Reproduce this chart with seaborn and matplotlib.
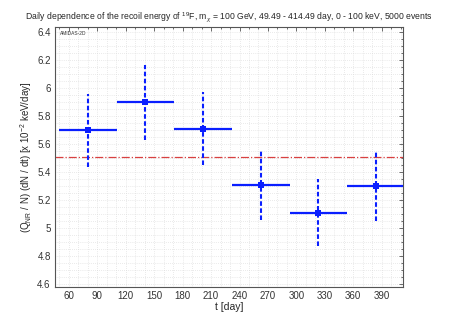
import numpy as np
import pandas as pd
import matplotlib
matplotlib.use("Agg")
import matplotlib.pyplot as plt
import seaborn as sns
from matplotlib.ticker import MultipleLocator

# data
bin_lo = [49.49, 110.32, 171.16, 231.99, 292.82, 353.66]
bin_hi = [110.32, 171.16, 231.99, 292.82, 353.66, 414.49]
t_center = [79.9, 140.7, 201.6, 262.4, 323.2, 384.1]
rate = [5.70, 5.90, 5.71, 5.305, 5.11, 5.30]
err = [0.26, 0.27, 0.26, 0.245, 0.24, 0.25]
mean_rate = 5.505
x_ticks = [60, 90, 120, 150, 180, 210, 240, 270, 300, 330, 360, 390]
y_ticks = [4.6, 4.8, 5.0, 5.2, 5.4, 5.6, 5.8, 6.0, 6.2, 6.4]
y_ticklabels = ["4.6", "4.8", "5", "5.2", "5.4", "5.6", "5.8", "6", "6.2", "6.4"]

sns.set_theme(style="white")
plt.rcParams['font.family'] = ['Liberation Sans', 'DejaVu Sans']
plt.rcParams['mathtext.fontset'] = 'custom'
plt.rcParams['mathtext.rm'] = 'Liberation Sans'
plt.rcParams['mathtext.it'] = 'Liberation Sans:italic'

df = pd.DataFrame({"t": t_center, "rate": rate, "err": err, "lo": bin_lo, "hi": bin_hi})

fig = plt.figure(figsize=(4.5, 3.15), dpi=100)
ax = fig.add_axes([0.122, 0.09, 0.773, 0.823])

ax.set_xlim(45.2, 412.2)
ax.set_ylim(4.58, 6.436)
ax.xaxis.set_minor_locator(MultipleLocator(10))
ax.yaxis.set_minor_locator(MultipleLocator(0.05))
ax.grid(True, which='both', color='#d6d6d6', linestyle=(0, (1, 2)), linewidth=0.5)
ax.set_axisbelow(True)

ax.axhline(mean_rate, color='#d84040', linestyle='-.', linewidth=0.9, zorder=2)

blue = '#0a1fff'
# horizontal bars (bin widths)
ax.hlines(df["rate"], df["lo"], df["hi"], color=blue, linewidth=1.6, zorder=3)
# vertical dashed error bars
ax.vlines(df["t"], df["rate"] - df["err"], df["rate"] + df["err"], color=blue,
          linewidth=1.5, linestyles=(0, (2.2, 1.2)), zorder=3)
sns.scatterplot(data=df, x="t", y="rate", ax=ax, marker='s', s=20, color=blue,
                edgecolor=blue, linewidth=0, zorder=4, legend=False)

ax.set_xticks(x_ticks)
ax.set_xticklabels([str(v) for v in x_ticks], fontsize=7, color='#333333')
ax.set_yticks(y_ticks)
ax.set_yticklabels(y_ticklabels, fontsize=7, color='#333333')
ax.tick_params(which='both', direction='in', top=True, right=True, length=3, width=0.6,
               color='#555555', pad=3)
ax.tick_params(which='minor', length=1.5)

for s in ax.spines.values():
    s.set_color('#555555')
    s.set_linewidth(0.8)

ax.set_xlabel("t [day]", fontsize=7.5, labelpad=1)
ax.set_ylabel(r"(Q$_{\rm NR}$ / N) (dN / dt) [x 10$^{-2}$ keV/day]", fontsize=7, labelpad=2.5)
ax.set_title(r"Daily dependence of the recoil energy of $^{19}$F, m$_{\chi}$ = 100 GeV, 49.49 - 414.49 day, 0 - 100 keV, 5000 events",
             fontsize=6.2, pad=6)
ax.text(0.015, 0.985, "AMIDAS-2D", transform=ax.transAxes, fontsize=3.5, va='top', ha='left', color='#333333')

fig.savefig("out.png", dpi=100)
